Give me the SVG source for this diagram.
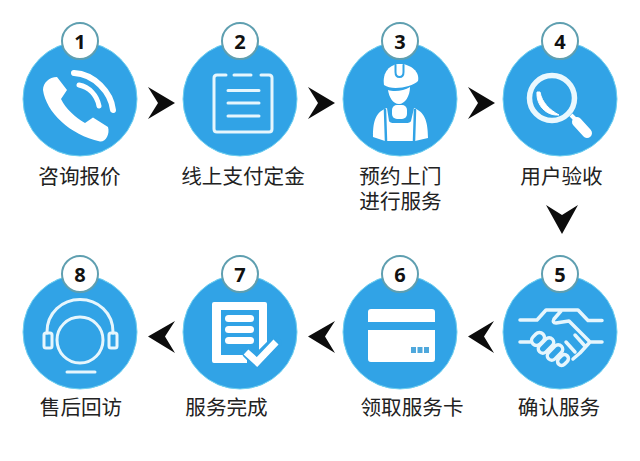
<svg xmlns="http://www.w3.org/2000/svg" width="640" height="461" viewBox="0 0 640 461">
<style>
.disc{fill:#31a3e6;stroke:#6fd0f0;stroke-width:1}
.badge{fill:#fff;stroke:#5f9fb0;stroke-width:2}
.num{font-family:"Noto Sans","DejaVu Sans",sans-serif;font-weight:700;font-size:20px;fill:#111;text-anchor:middle}
.lab{font-family:"Noto Sans CJK SC","Noto Sans",sans-serif;font-size:20.6px;fill:#222;text-anchor:middle}
.w{fill:#fff}
.ln{fill:none;stroke:#e6f6fd;stroke-width:3;stroke-linecap:round;stroke-linejoin:round}
.hs{fill:none;stroke:#e6f6fd;stroke-width:3.500;stroke-linecap:round;stroke-linejoin:round}
.b{fill:none;stroke:#31a3e6;stroke-linecap:round;stroke-linejoin:round}
.arrow{fill:#0c0c0c}
</style>
<rect width="640" height="461" fill="#fff"/>
<g id="connectors">
<path class="arrow" d="M148,87L175,103L148,119L158,103Z"/>
<path class="arrow" d="M308,87L335,103L308,119L318,103Z"/>
<path class="arrow" d="M468,87L495,103L468,119L478,103Z"/>
<path class="arrow" d="M546,205L562,215L578,205L562,234Z"/>
<path class="arrow" d="M494,321L468,336.500L494,353L484,336.500Z"/>
<path class="arrow" d="M335,321L308,336.500L335,353L325,336.500Z"/>
<path class="arrow" d="M175,321L148,336.500L175,353L165,336.500Z"/>
</g>
<g id="node1">
<circle class="disc" cx="80" cy="99" r="57"/><circle class="badge" cx="80" cy="41" r="18"/>
<text class="num" x="80" y="49">1</text>
<path class="w" d="M43,90C46,112 70,135 100,141.500C106,142 110,134 108,127L93,117.500L85,123C75,117 66,109 61,99L67,90L57,77C49,77 43,83 43,90Z"/>
<path d="M74,73C94,74 111,92 113,110" fill="none" stroke="#fff" stroke-width="6" stroke-linecap="round"/>
<path d="M79,85C89,87 97,95 99,106" fill="none" stroke="#fff" stroke-width="5" stroke-linecap="round"/>
<text class="lab" x="79.500" y="184">咨询报价</text>
</g>
<g id="node2">
<circle class="disc" cx="240" cy="99" r="57"/><circle class="badge" cx="240" cy="41" r="18"/>
<text class="num" x="240" y="49">2</text>
<path class="ln" d="M226,75H217Q214,75 214,78V129Q214,132 217,132H269Q272,132 272,129V78Q272,75 269,75H261"/>
<path class="ln" d="M234,75H251M228,90.500H259M228,103H259M228,116H259"/>
<text class="lab" x="243" y="184">线上支付定金</text>
</g>
<g id="node3">
<circle class="disc" cx="400" cy="99" r="57"/><circle class="badge" cx="400" cy="41" r="18"/>
<text class="num" x="400" y="49">3</text>
<path class="w" d="M384,85C382,72 390,64 400,64C411,64 420,72 418,81C412,87 392,91 384,85Z"/>
<path class="b" stroke-width="2" d="M395.500,65V72Q395.500,77 399.500,77Q403.500,77 403.500,72V65"/>
<path class="w" d="M388,90C394,92 404,91 410,87C410,96 405,104 399,104C393,104 389,97 388,90Z"/>
<rect class="w" x="392" y="105" width="15" height="14" rx="5"/>
<path class="w" d="M387,108C376,112 373,120 373,137L385,141H415L428,138C428,120 424,112 414,108L411,121Q410,123 406,123H394Q390,123 389,121Z"/>
<path class="b" stroke-width="2.500" d="M385,110L386,141M415,110L414,141"/>
<text class="lab" x="400.500" y="184">预约上门<tspan x="400.500" dy="25">进行服务</tspan></text>
</g>
<g id="node4">
<circle class="disc" cx="560" cy="99" r="57"/><circle class="badge" cx="560" cy="41" r="18"/>
<text class="num" x="560" y="49">4</text>
<circle cx="552" cy="98" r="22.500" fill="none" stroke="#eaf8fe" stroke-width="5.500"/>
<path class="w" d="M537,92C536,105 546,116 559,115C550,110 542,103 540,92Z" stroke="#fff" stroke-width="1"/>
<path d="M571,115L578,122" stroke="#fff" stroke-width="4"/>
<path d="M577,122L587,133" stroke="#fff" stroke-width="10" stroke-linecap="round"/>
<text class="lab" x="561.500" y="184">用户验收</text>
</g>
<g id="node5">
<circle class="disc" cx="560" cy="332" r="57"/><circle class="badge" cx="560" cy="274" r="18"/>
<text class="num" x="560" y="282">5</text>
<path class="hs" d="M520,320H537L546,310H578L588,320.500H602M561,311L554,319Q552,323 556,323L569,321L590,342H602M520,342H530M590,342L580,353L573,359M575,335L584,345M566,342L575,352"/>
<g class="hs">
<rect x="-7" y="-5" width="14" height="10" rx="5" transform="translate(538,339) rotate(-45)"/>
<rect x="-9" y="-4.500" width="18" height="9" rx="4.500" transform="translate(546,345.500) rotate(-45)"/>
<rect x="-9" y="-4.500" width="18" height="9" rx="4.500" transform="translate(555,352.500) rotate(-45)"/>
<rect x="-6" y="-4" width="12" height="8" rx="4" transform="translate(563,360) rotate(-45)"/>
</g>
<text class="lab" x="559" y="415">确认服务</text>
</g>
<g id="node6">
<circle class="disc" cx="400" cy="332" r="57"/><circle class="badge" cx="400" cy="274" r="18"/>
<text class="num" x="400" y="282">6</text>
<path class="w" d="M371,309H432Q435,309 435,312V322H368V312Q368,309 371,309ZM368,330H435V359Q435,362 432,362H371Q368,362 368,359Z"/>
<path fill="#4fa8dc" d="M411,347h5v6h-5zM417.500,347h5v6h-5zM424,347h5v6h-5z"/>
<text class="lab" x="412" y="415">领取服务卡</text>
</g>
<g id="node7">
<circle class="disc" cx="240" cy="332" r="57"/><circle class="badge" cx="240" cy="274" r="18"/>
<text class="num" x="240" y="282">7</text>
<path class="w" fill-rule="evenodd" d="M214,302H265Q267,302 267,304V350H259V310H221V355H247V363H214Q212,363 212,361V304Q212,302 214,302Z"/>
<rect class="w" x="225" y="315" width="29" height="7" rx="3.500"/>
<rect class="w" x="225" y="326" width="29" height="7" rx="3.500"/>
<rect class="w" x="225" y="337" width="29" height="7" rx="3.500"/>
<path class="b" stroke-width="13" d="M248,352L257,361L275,343"/>
<path fill="none" stroke="#fff" stroke-width="7" stroke-linejoin="miter" d="M246,352L257,362L276,342"/>
<text class="lab" x="226.500" y="415">服务完成</text>
</g>
<g id="node8">
<circle class="disc" cx="80" cy="332" r="57"/><circle class="badge" cx="80" cy="274" r="18"/>
<text class="num" x="80" y="282">8</text>
<circle class="ln" cx="80" cy="340" r="23"/>
<path class="ln" d="M47,333V332C47,313 62,299.500 80,299.500C98,299.500 113,313 113,332V333"/>
<rect class="ln" x="44" y="333" width="8" height="15" rx="2"/>
<rect class="ln" x="109" y="333" width="8" height="15" rx="2"/>
<path class="ln" d="M67,372H95"/>
<text class="lab" x="81" y="415">售后回访</text>
</g>
</svg>
